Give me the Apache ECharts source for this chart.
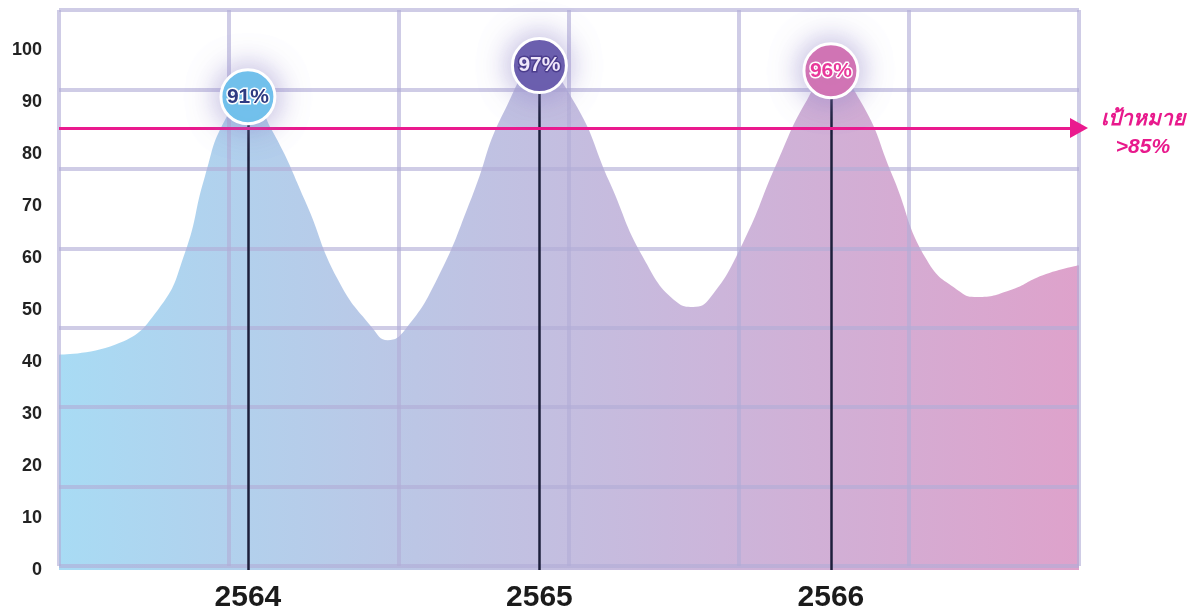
<!DOCTYPE html>
<html>
<head>
<meta charset="utf-8">
<script src="https://cdn.jsdelivr.net/npm/echarts@6/dist/echarts.min.js"></script>
<style>
  html, body { margin: 0; padding: 0; background: #ffffff; }
  #chart { width: 1195px; height: 610px; }
</style>
</head>
<body>
<div id="chart"></div>
<script>
// Year labels and the headline value for each year
const years = [2564, 2565, 2566];
const peakValues = [91, 97, 96];
const peakColors = ['#70c5ee', '#6a5dad', '#d674b4'];
const peakTextColors = ['#2e3b82', '#efe6fa', '#e8399b'];
const peakTextBorders = ['#ffffff', '#4b3d8d', '#ffffff'];

// Target level
const targetValue = 85;
const targetText = 'เป้าหมาย\n>85%';

// Smoothed trend drawn as the filled area (x in years, y in percent)
const curveX = [
  2563.352, 2563.544, 2563.691, 2563.784, 2563.852, 2563.921, 2564.000,
  2564.082, 2564.196, 2564.309, 2564.425, 2564.480, 2564.539, 2564.652,
  2564.768, 2564.882, 2565.000, 2565.115, 2565.242, 2565.355, 2565.472,
  2565.527, 2565.585, 2565.698, 2565.815, 2565.918, 2566.000, 2566.099,
  2566.213, 2566.329, 2566.443, 2566.501, 2566.614, 2566.727, 2566.851
];
const curveY = [
  41.4, 43.3, 50.0, 61.0, 75.6, 86.5, 91.0,
  84.6, 71.0, 55.8, 46.7, 44.2, 46.2, 56.3,
  71.7, 88.5, 97.0, 90.4, 74.4, 60.2, 51.5,
  50.6, 52.3, 62.9, 78.3, 90.4, 96.0, 90.4,
  75.6, 59.6, 53.5, 52.5, 53.8, 56.7, 58.6
];

// Value-axis range and step
const yMin = 0, yMax = 100, yStep = 10;
const xMin = 2563.352, xMax = 2566.851;

// Decorative lattice: 6 columns by 7 rows
const latticeCols = 6, latticeRows = 7;

const chart = echarts.init(document.getElementById('chart'), null, { renderer: 'canvas' });

const curveData = curveX.map((x, i) => [x, curveY[i]]);
const peakData = years.map((y, i) => ({
  value: [y, peakValues[i]],
  itemStyle: { color: peakColors[i] },
  label: { color: peakTextColors[i], textBorderColor: peakTextBorders[i] }
}));
const stemData = years.map((y, i) => [
  { coord: [y, yMin] },
  { coord: [y, peakValues[i]] }
]);

const latticeLine = { show: true, lineStyle: { color: 'rgba(178,172,214,0.62)', width: 4 } };

const option = {
  animation: false,
  backgroundColor: '#ffffff',
  grid: [
    { left: 59, right: 116, top: 50, bottom: 40, containLabel: false, outerBoundsMode: 'none' },
    { left: 59, top: 10, width: 1020, height: 556, containLabel: false, outerBoundsMode: 'none' }
  ],
  xAxis: [
    {
      type: 'value', gridIndex: 0, min: xMin, max: xMax,
      axisLine: { show: false }, axisTick: { show: false }, splitLine: { show: false },
      axisLabel: {
        customValues: years,
        formatter: v => String(Math.round(v)),
        fontFamily: 'Liberation Sans, Arial, sans-serif',
        fontWeight: 'bold', fontSize: 30, color: '#1b1b1b', margin: 13
      }
    },
    {
      type: 'value', gridIndex: 1, min: 0, max: latticeCols, interval: 1, z: 3,
      axisLine: { show: false }, axisTick: { show: false }, axisLabel: { show: false },
      splitLine: latticeLine
    }
  ],
  yAxis: [
    {
      type: 'value', gridIndex: 0, min: yMin, max: yMax, interval: yStep,
      axisLine: { show: false }, axisTick: { show: false }, splitLine: { show: false },
      axisLabel: {
        fontFamily: 'Liberation Sans, Arial, sans-serif',
        fontWeight: 'bold', fontSize: 18, color: '#222222', margin: 17
      }
    },
    {
      type: 'value', gridIndex: 1, min: 0, max: latticeRows, interval: 1, z: 3,
      axisLine: { show: false }, axisTick: { show: false }, axisLabel: { show: false },
      splitLine: latticeLine
    }
  ],
  series: [
    {
      name: 'trend',
      type: 'line',
      xAxisIndex: 0, yAxisIndex: 0,
      z: 1,
      data: curveData,
      smooth: 0.5,
      showSymbol: false,
      symbol: 'none',
      lineStyle: { width: 0 },
      areaStyle: {
        opacity: 1,
        color: new echarts.graphic.LinearGradient(0, 0, 1, 0, [
          { offset: 0, color: '#a8dbf4' },
          { offset: 0.35, color: '#bcc6e5' },
          { offset: 0.65, color: '#ccb5da' },
          { offset: 1, color: '#dea2cb' }
        ])
      }
    },
    {
      name: 'guides',
      type: 'line',
      xAxisIndex: 0, yAxisIndex: 0,
      z: 5,
      data: [],
      markLine: {
        silent: true,
        animation: false,
        data: [
          ...stemData.map(d => [
            { ...d[0], symbol: 'none', lineStyle: { color: '#1c1f3b', width: 2.5, type: 'solid' } },
            { ...d[1], symbol: 'none' }
          ]),
          [
            { coord: [xMin, targetValue], symbol: 'none', lineStyle: { color: '#ea1a8e', width: 3, type: 'solid' } },
            {
              coord: [xMax, targetValue], symbol: 'triangle', symbolSize: [20, 18],
              label: {
                show: true, position: 'end', formatter: targetText,
                color: '#e8198c', fontSize: 21, fontWeight: 'bold', fontStyle: 'italic',
                lineHeight: 28, align: 'center', distance: 64, offset: [0, 5]
              }
            }
          ]
        ],
        label: { show: false },
        symbol: ['none', 'none']
      }
    },
    {
      name: 'peaks',
      type: 'scatter',
      xAxisIndex: 0, yAxisIndex: 0,
      z: 6,
      data: peakData,
      symbol: 'circle',
      symbolSize: 54,
      itemStyle: {
        opacity: 1,
        borderColor: '#ffffff', borderWidth: 3,
        shadowBlur: 32, shadowColor: 'rgba(140,128,200,0.7)'
      },
      label: {
        show: true, position: 'inside',
        formatter: p => p.value[1] + '%',
        fontFamily: 'Liberation Sans, Arial, sans-serif',
        fontWeight: 'bold', fontSize: 21, textBorderWidth: 3
      }
    }
  ]
};

chart.setOption(option);
</script>
</body>
</html>
